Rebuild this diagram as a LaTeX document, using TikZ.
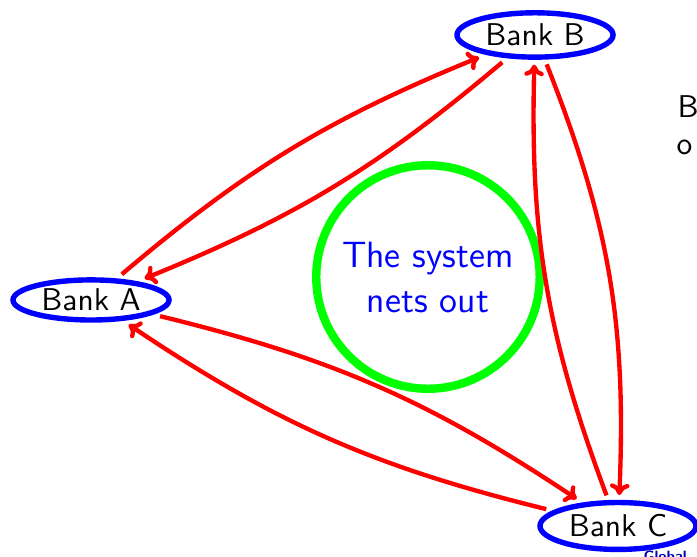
\documentclass[tikz,border=0pt]{standalone}
\usepackage{tikz}
\usetikzlibrary{shapes.geometric}
\usetikzlibrary{positioning}
\usetikzlibrary{arrows.meta}

\begin{document}
\begin{tikzpicture}[>={To[length=3.8pt,width=6.5pt]},font=\sffamily\fontsize{10.5}{12}\selectfont,
	bank node/.style={ellipse,draw=blue,line width=1.8pt,inner sep=0pt,
		minimum width=1.83cm,minimum height=0.52cm,outer sep=2.5pt},
	net node/.style={circle,draw=green,line width=2.8pt,minimum size=2.62cm,
		text=blue,align=center,font=\sffamily\fontsize{12.2}{15}\selectfont},
	flow/.style={->,red,line width=1.45pt}]
	\useasboundingbox (0,0) rectangle (8.172,6.519);
	
	% pieces of the slide around the picture
	\node[anchor=base west,inner sep=0pt] (rb) at (7.938,5.147) {B};
	\node[anchor=base west,inner sep=0pt] (ro) at (7.926,4.702) {o};
	\node[anchor=base west,inner sep=0pt,text=blue!70!black,font=\sffamily\bfseries\tiny] (foot) at (7.539,-0.059) {Global};
	
	\node[bank node,minimum height=0.47cm] (a) at (1.067,3.002) {Bank A};
	\node[bank node] (b) at (6.273,6.109) {Bank B};
	\node[bank node,minimum height=0.55cm] (c) at (7.246,0.352) {Bank C};
	\node[net node] (net) at (5.018,3.271) {The system\\nets out};
	
	\path[flow]
	(a) edge [bend left=9] (b)
	(b) edge [bend left=9] (a)
	(a) edge [bend left=10] (c)
	(c) edge [bend left=10] (a)
	(b) edge [bend left=12] (c)
	(c) edge [bend left=11] (b);
\end{tikzpicture}
\end{document}
